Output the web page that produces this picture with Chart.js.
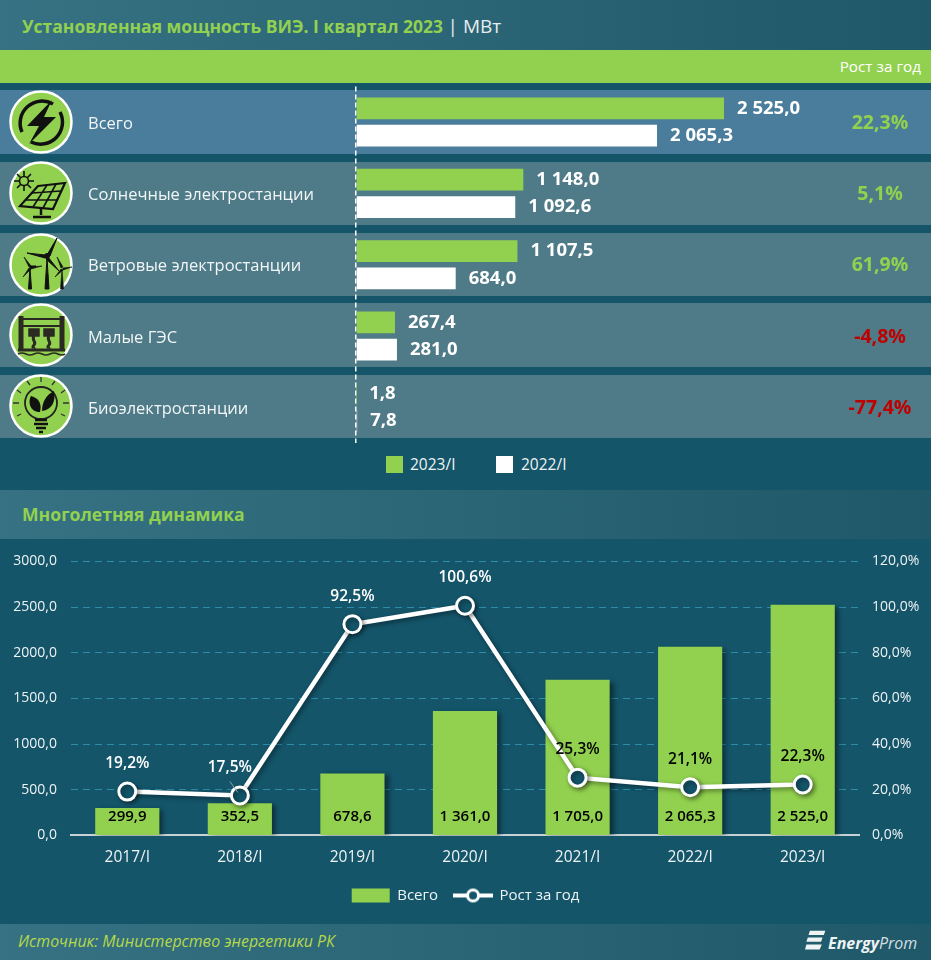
<!DOCTYPE html>
<html lang="ru">
<head>
<meta charset="utf-8">
<script src="https://cdn.jsdelivr.net/npm/chart.js@4"></script>
<style>
  html, body { margin: 0; padding: 0; }
  body { width: 931px; height: 960px; overflow: hidden; background: #14556a; font-family: "Open Sans", sans-serif; position: relative; }
  .abs { position: absolute; }
  .band { position: absolute; left: 0; width: 931px; background: linear-gradient(90deg, #367283, #1f5868); }
  .row { position: absolute; left: 0; width: 931px; background: #4e7b87; }
  .title { position: absolute; left: 22px; font-weight: 700; color: #92d14f; white-space: nowrap; }
  .lgbox { position: absolute; top: 456px; width: 17px; height: 17px; }
  .lgtext { position: absolute; top: 454px; font-size: 15.5px; line-height: 21px; color: #eef3f4; }
  canvas { position: absolute; left: 0; }
  svg { position: absolute; }
</style>
</head>
<body>
<div class="band" style="top:0;height:50px"></div>
<div class="abs" style="left:0;top:50px;width:931px;height:33px;background:#92d14f"></div>
<div class="row" style="top:90px;height:64px;background:#4a7d9b"></div>
<div class="row" style="top:162px;height:63px"></div>
<div class="row" style="top:233px;height:63px"></div>
<div class="row" style="top:303px;height:64px"></div>
<div class="row" style="top:375px;height:63px"></div>
<div class="band" style="top:490px;height:49px"></div>
<div class="band" style="top:924px;height:36px"></div>

<div class="title" style="top:14px;font-size:17.5px;line-height:24px">Установленная мощность ВИЭ. I квартал 2023 <span style="color:#e8eef0;font-weight:400;font-size:19px">| МВт</span></div>
<div class="abs" style="right:10px;top:55px;font-size:15.3px;line-height:22px;color:#fff">Рост за год</div>
<div class="title" style="top:502px;font-size:17.6px;line-height:24px">Многолетняя динамика</div>
<div class="abs" style="left:18px;top:931px;font-size:15.9px;line-height:20px;font-style:italic;color:#b5d84a">Источник: Министерство энергетики РК</div>

<div class="lgbox" style="left:386px;background:#92d14f"></div>
<div class="lgtext" style="left:410px">2023/I</div>
<div class="lgbox" style="left:496px;background:#fff"></div>
<div class="lgtext" style="left:521px">2022/I</div>

<canvas id="topChart" class="abs" style="top:83px"></canvas>
<canvas id="dynChart" class="abs" style="top:539px"></canvas>

<!-- иконки -->
<svg style="left:9px;top:90px" width="64" height="64" viewBox="0 0 64 64">
  <circle cx="32" cy="32" r="30.5" fill="#92d14f" stroke="#fff" stroke-width="2.5"/>
  <path d="M13 42A22 22 0 0 1 44 14M51 22A22 22 0 0 1 22 52" fill="none" stroke="#111" stroke-width="3.5"/>
  <path d="M43 10 L18 36 L30 36 L20 54 L47 27 L35 27 Z" fill="#111"/>
</svg>
<svg style="left:9px;top:161px" width="64" height="64" viewBox="0 0 64 64">
  <circle cx="32" cy="32" r="30.5" fill="#92d14f" stroke="#fff" stroke-width="2.5"/>
  <g stroke="#111" stroke-width="1.6" fill="none">
    <circle cx="15" cy="20" r="4.5"/>
    <path d="M15 10v5M15 25v5M5 20h5M20 20h5M8 13l3.5 3.5M18.5 23.5l3.5 3.5M22 13l-3.5 3.5M8 27l3.5-3.5"/>
    <path d="M29 25 L56 22 L44 48 L11 45 Z" stroke-width="2.2"/>
    <path d="M23 32 L52 30M17 39 L48 39M38 24 L24 46M47 23 L34 47"/>
  </g>
  <path d="M32 47v7M24 56h18" stroke="#111" stroke-width="2.5" fill="none"/>
</svg>
<svg style="left:9px;top:233px" width="64" height="64" viewBox="0 0 64 64">
  <circle cx="32" cy="32" r="30.5" fill="#92d14f" stroke="#fff" stroke-width="2.5"/>
  <g fill="#111" stroke="#111">
    <path d="M38 25 L40 56 L36 56 Z" stroke-width="1"/>
    <path d="M38 22 L48 5 L41 23 Z M36 22 L18 20 L36 25 Z M39 24 L50 38 L37 26 Z" stroke-width="1"/>
    <circle cx="38" cy="23" r="2.5"/>
    <path d="M21 35 L22.5 56 L19.5 56 Z M21 33 L27 33 L21 35 Z"/>
    <path d="M20 34 L15 24 L22 33 Z M22 34 L33 33 L22 36 Z M20 35 L14 44 L22 36 Z" stroke-width=".6"/>
    <path d="M53 36 L54.5 56 L51.5 56 Z" stroke-width=".6"/>
    <path d="M52 35 L48 24 L54 34 Z M54 35 L63 34 L54 37 Z M52 36 L46 44 L54 37 Z" stroke-width=".6"/>
  </g>
</svg>
<svg style="left:9px;top:303px" width="64" height="64" viewBox="0 0 64 64">
  <circle cx="32" cy="32" r="30.5" fill="#92d14f" stroke="#fff" stroke-width="2.5"/>
  <g stroke="#2a2a22" fill="none">
    <path d="M12 13v34M53 13v34" stroke-width="5"/>
    <path d="M14 16h38M14 23h38" stroke-width="2"/>
    <path d="M20 26h10v7h-10zM35 26h10v7h-10z" fill="#2a2a22" stroke-width="1.5"/>
    <path d="M25 33c-3 4 3 6 0 9s1 3 0 4M40 33c-3 4 3 6 0 9s1 3 0 4" stroke-width="3"/>
    <path d="M9 47h47" stroke-width="3"/>
    <path d="M9 51q4-2 8 0t8 0t8 0t8 0t8 0t7 0" stroke-width="1.6"/>
  </g>
</svg>
<svg style="left:9px;top:374px" width="64" height="64" viewBox="0 0 64 64">
  <circle cx="32" cy="32" r="30.5" fill="#92d14f" stroke="#fff" stroke-width="2.5"/>
  <circle cx="32" cy="29" r="16" fill="none" stroke="#222" stroke-width="1.8"/>
  <path d="M31 38 C 20 38 19 27 22 22 C 30 24 33 30 31 38 Z" fill="#111"/>
  <path d="M33 37 C 33 28 37 21 45 17 C 47 27 43 36 33 37 Z" fill="#111"/>
  <path d="M26 46 L38 46 M25 50 L39 50 M27 54 L37 54 M30 58 L34 58" stroke="#111" stroke-width="2.4"/>
  <path d="M32 3v5M18 7l3 4M46 7l-3 4M8 16l4 3M56 16l-4 3M4 29h6M54 29h6M8 42l4-2M56 42l-4-2" stroke="#333" stroke-width="1.3"/>
</svg>
<!-- логотип -->
<svg style="left:805px;top:930px" width="21" height="22" viewBox="0 0 30 26" preserveAspectRatio="none">
  <path d="M7 1 H29 L27 6 H5 Z M4 9 H25 L23 14 H2 Z M2 17 H24 L21 23 H0 Z" fill="#eef3f4"/>
</svg>
<div class="abs" style="left:828px;top:932px;font-size:16px;line-height:22px;font-style:italic;color:#eef3f4;white-space:nowrap"><b>Energy</b><span style="color:#d5dfe2">Prom</span></div>

<script>
const GREEN = '#92d14f';
const BG = '#14556a';
const FONT = '"Open Sans", sans-serif';

const sourceNames = ['Всего', 'Солнечные электростанции', 'Ветровые электростанции', 'Малые ГЭС', 'Биоэлектростанции'];
const capacity2023 = [2525.0, 1148.0, 1107.5, 267.4, 1.8];
const capacity2022 = [2065.3, 1092.6, 684.0, 281.0, 7.8];
const growthBySource = [22.3, 5.1, 61.9, -4.8, -77.4];

const years = ['2017/I', '2018/I', '2019/I', '2020/I', '2021/I', '2022/I', '2023/I'];
const totalByYear = [299.9, 352.5, 678.6, 1361.0, 1705.0, 2065.3, 2525.0];
const growthByYear = [19.2, 17.5, 92.5, 100.6, 25.3, 21.1, 22.3];

// 1 234,5
function fmt(v) {
  const parts = v.toFixed(1).split('.');
  return parts[0].replace(/\B(?=(\d{3})+$)/g, ' ') + ',' + parts[1];
}

function sizeCanvas(id, w, h) {
  const c = document.getElementById(id);
  c.style.width = w + 'px';
  c.style.height = h + 'px';
  return c;
}

// подписи значений справа от полос и рост за год
const topLabels = {
  id: 'topLabels',
  afterDatasetsDraw(chart) {
    const ctx = chart.ctx;
    ctx.save();
    ctx.font = '700 18.5px ' + FONT;
    ctx.fillStyle = '#fff';
    ctx.textAlign = 'left';
    ctx.textBaseline = 'middle';
    chart.data.datasets.forEach((ds, d) => {
      chart.getDatasetMeta(d).data.forEach((bar, i) => {
        ctx.fillText(fmt(ds.data[i]), bar.x + 13, bar.y);
      });
    });
    ctx.font = '700 19.5px ' + FONT;
    ctx.textAlign = 'center';
    growthBySource.forEach((g, i) => {
      ctx.fillStyle = g < 0 ? '#c00000' : GREEN;
      ctx.fillText(fmt(g) + '%', 880, chart.scales.y.getPixelForValue(i) + 1);
    });
    ctx.restore();
  }
};

new Chart(sizeCanvas('topChart', 931, 360), {
  type: 'bar',
  plugins: [topLabels],
  data: {
    labels: sourceNames,
    datasets: [
      { label: '2023/I', data: capacity2023, backgroundColor: GREEN, categoryPercentage: 0.766, barPercentage: 0.795 },
      { label: '2022/I', data: capacity2022, backgroundColor: '#fff', categoryPercentage: 0.766, barPercentage: 0.795 }
    ]
  },
  options: {
    indexAxis: 'y',
    responsive: false,
    animation: false,
    devicePixelRatio: 1,
    layout: { padding: { left: 88, right: 0, top: 3.4, bottom: 0 } },
    scales: {
      x: {
        min: 0, max: 3945,
        afterFit(scale) { scale.height = 0; },
        // пунктир только на нуле
        grid: { color: c => c.tick.value === 0 ? '#fff' : 'transparent', lineWidth: 1.5, drawTicks: false },
        border: { display: false, dash: [5, 3] },
        ticks: { display: false }
      },
      y: {
        afterFit(scale) { scale.width = 268; scale.paddingTop = 0; scale.paddingBottom = 0; },
        grid: { display: false, drawTicks: false },
        border: { display: false },
        ticks: { crossAlign: 'far', labelOffset: 2, color: '#f2f6f7', font: { family: FONT, size: 16.5 } }
      }
    },
    plugins: {
      tooltip: { enabled: false },
      legend: { display: false }
    }
  }
});

// значок линии с точкой для легенды
function lineGlyph() {
  const c = document.createElement('canvas');
  c.width = 40; c.height = 16;
  const g = c.getContext('2d');
  g.strokeStyle = '#fff';
  g.lineWidth = 4;
  g.beginPath(); g.moveTo(0, 8); g.lineTo(40, 8); g.stroke();
  g.lineWidth = 3;
  g.fillStyle = BG;
  g.beginPath(); g.arc(20, 8, 5.5, 0, Math.PI * 2); g.fill(); g.stroke();
  return c;
}
const glyph = lineGlyph();

// тень под столбцами и линией
const shadow = {
  id: 'shadow',
  beforeDatasetDraw(chart, args) {
    const ctx = chart.ctx;
    ctx.save();
    ctx.shadowColor = 'rgba(0,0,0,0.45)';
    ctx.shadowBlur = 5;
    ctx.shadowOffsetX = args.meta.type === 'bar' ? 4 : 2;
    ctx.shadowOffsetY = 2;
  },
  afterDatasetDraw(chart) { chart.ctx.restore(); }
};

const dynLabels = {
  id: 'dynLabels',
  afterDatasetsDraw(chart) {
    const ctx = chart.ctx;
    const bars = chart.getDatasetMeta(1).data;
    const pts = chart.getDatasetMeta(0).data;
    ctx.save();
    ctx.font = '600 15px ' + FONT;
    ctx.textAlign = 'center';
    ctx.textBaseline = 'middle';
    ctx.fillStyle = '#000';
    bars.forEach((bar, i) => ctx.fillText(fmt(totalByYear[i]), bar.x, bar.base - 18));
    ctx.font = '600 15.5px ' + FONT;
    pts.forEach((pt, i) => {
      const y = pt.y - 28;
      // над столбцом подпись чёрная, над фоном белая
      ctx.fillStyle = bars[i].y < y ? '#000' : '#fff';
      const rising = i < pts.length - 1 && growthByYear[i + 1] > growthByYear[i] + 20;
      ctx.fillText(fmt(growthByYear[i]) + '%', pt.x - (rising ? 10 : 0), y);
      if (rising) {
        // выноска к сдвинутой подписи
        ctx.strokeStyle = '#8aa6ad';
        ctx.lineWidth = 1;
        ctx.beginPath();
        ctx.moveTo(pt.x - 10, pt.y - 14);
        ctx.lineTo(pt.x - 2, pt.y - 3);
        ctx.stroke();
      }
    });
    ctx.restore();
  }
};

new Chart(sizeCanvas('dynChart', 931, 374), {
  data: {
    labels: years,
    datasets: [
      {
        type: 'line', label: 'Рост за год', data: growthByYear, yAxisID: 'y1', order: 0,
        borderColor: '#fff', borderWidth: 4.5, tension: 0,
        pointRadius: 8.5, pointBorderWidth: 3, pointBorderColor: '#fff', pointBackgroundColor: BG
      },
      {
        type: 'bar', label: 'Всего', data: totalByYear, yAxisID: 'y', order: 1,
        backgroundColor: GREEN, barPercentage: 0.57, categoryPercentage: 1
      }
    ]
  },
  plugins: [shadow, dynLabels],
  options: {
    responsive: false,
    animation: false,
    devicePixelRatio: 1,
    layout: { padding: { top: 18, left: 0, right: 0, bottom: 0 } },
    scales: {
      x: {
        grid: { display: false },
        border: { color: '#c6d2d6', width: 2 },
        ticks: { color: '#eef3f4', padding: 5, font: { family: FONT, size: 15.5 } }
      },
      y: {
        min: 0, max: 3000,
        afterFit(scale) { scale.width = 71; },
        afterBuildTicks(scale) { scale.ticks = [0, 500, 1000, 1500, 2000, 2500, 3000].map(value => ({ value })); },
        grid: { color: c => c.tick.value === 0 ? 'transparent' : '#2d8ca8', lineWidth: 1, drawTicks: false },
        border: { display: false, dash: [7, 5] },
        ticks: { color: '#eef3f4', padding: 14, callback: v => v.toFixed(1).replace('.', ','), font: { family: FONT, size: 14 } }
      },
      y1: {
        position: 'right',
        min: 0, max: 120,
        afterFit(scale) { scale.width = 72; },
        grid: { display: false, drawTicks: false },
        border: { display: false },
        ticks: { color: '#eef3f4', padding: 13, stepSize: 20, callback: v => v.toFixed(1).replace('.', ',') + '%', font: { family: FONT, size: 14 } }
      }
    },
    plugins: {
      tooltip: { enabled: false },
      legend: {
        position: 'bottom',
        reverse: true,
        labels: {
          color: '#eef3f4', boxHeight: 14, usePointStyle: true, pointStyleWidth: 38, padding: 16,
          font: { family: FONT, size: 15 },
          generateLabels(chart) {
            const items = Chart.defaults.plugins.legend.labels.generateLabels(chart);
            items.forEach(it => { it.pointStyle = it.text === 'Всего' ? 'rect' : glyph; });
            return items;
          }
        }
      }
    }
  }
});
</script>
</body>
</html>
